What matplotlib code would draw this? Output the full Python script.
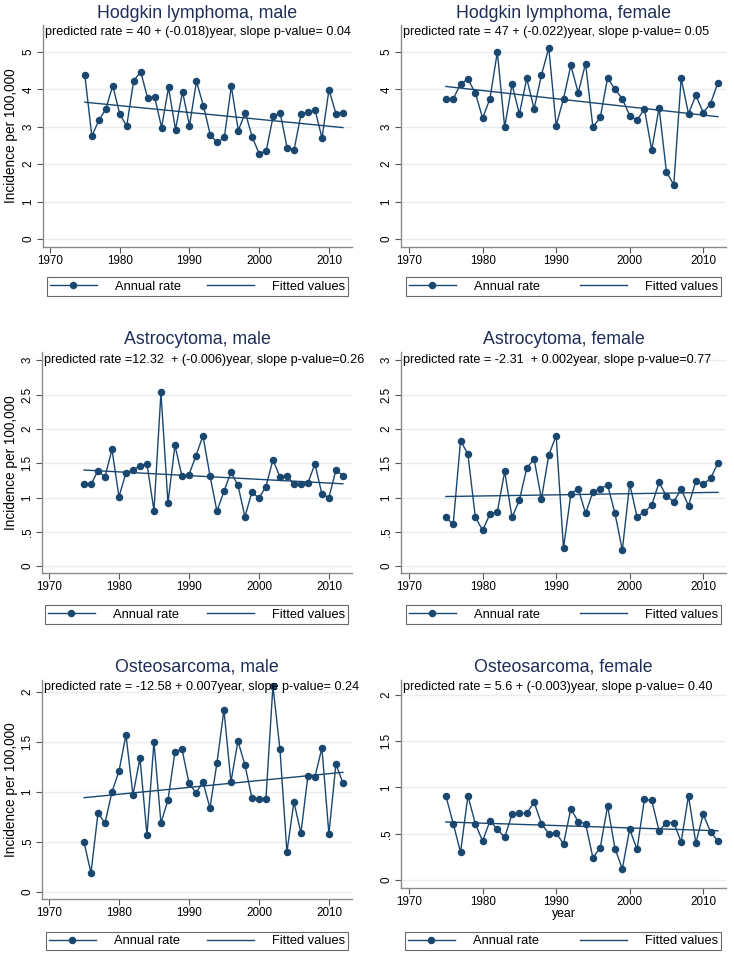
import numpy as np
import matplotlib as mpl
mpl.use("Agg")
import matplotlib.pyplot as plt
from matplotlib.lines import Line2D
from matplotlib.transforms import Bbox

plt.rcParams['font.family'] = ['Liberation Sans', 'DejaVu Sans']

years = np.arange(1975, 2013)

hodgkin_male = [4.38, 2.75, 3.17, 3.47, 4.10, 3.34, 3.02, 4.23, 4.47, 3.77,
                3.80, 2.98, 4.05, 2.92, 3.94, 3.03, 4.21, 3.56, 2.77, 2.58,
                2.72, 4.08, 2.90, 3.38, 2.72, 2.28, 2.36, 3.28, 3.37, 2.44,
                2.39, 3.34, 3.39, 3.45, 2.70, 3.99, 3.35, 3.38]
hodgkin_female = [3.75, 3.74, 4.15, 4.27, 3.91, 3.23, 3.75, 5.00, 2.99, 4.13,
                  3.34, 4.29, 3.48, 4.38, 5.11, 3.03, 3.75, 4.64, 3.91, 4.69,
                  2.99, 3.25, 4.31, 4.00, 3.75, 3.30, 3.17, 3.48, 2.38, 3.51,
                  1.79, 1.45, 4.29, 3.35, 3.84, 3.38, 3.62, 4.18]
astro_male = [1.19, 1.19, 1.39, 1.30, 1.70, 1.01, 1.36, 1.40, 1.46, 1.49,
              0.81, 2.53, 0.92, 1.76, 1.31, 1.33, 1.61, 1.90, 1.32, 0.80,
              1.09, 1.37, 1.18, 0.72, 1.08, 0.99, 1.16, 1.55, 1.30, 1.32,
              1.19, 1.20, 1.21, 1.49, 1.05, 1.00, 1.40, 1.32]
astro_female = [0.71, 0.61, 1.83, 1.63, 0.72, 0.52, 0.76, 0.79, 1.38, 0.71,
                0.96, 1.43, 1.56, 0.98, 1.62, 1.90, 0.26, 1.05, 1.13, 0.77,
                1.08, 1.13, 1.18, 0.77, 0.23, 1.20, 0.72, 0.79, 0.89, 1.22,
                1.02, 0.94, 1.12, 0.88, 1.24, 1.19, 1.28, 1.50]
osteo_male = [0.50, 0.19, 0.79, 0.69, 1.00, 1.21, 1.57, 0.97, 1.34, 0.57,
              1.50, 0.69, 0.92, 1.40, 1.43, 1.09, 0.99, 1.10, 0.84, 1.29,
              1.82, 1.10, 1.51, 1.27, 0.94, 0.93, 0.93, 2.06, 1.43, 0.40,
              0.90, 0.59, 1.16, 1.15, 1.44, 0.58, 1.28, 1.09]
osteo_female = [0.91, 0.61, 0.30, 0.91, 0.61, 0.42, 0.64, 0.55, 0.46, 0.71,
                0.72, 0.72, 0.84, 0.61, 0.50, 0.51, 0.39, 0.77, 0.63, 0.61,
                0.24, 0.35, 0.80, 0.34, 0.12, 0.55, 0.33, 0.87, 0.86, 0.53,
                0.62, 0.62, 0.41, 0.91, 0.40, 0.71, 0.52, 0.42]

titles = ["Hodgkin lymphoma, male", "Hodgkin lymphoma, female",
          "Astrocytoma, male", "Astrocytoma, female",
          "Osteosarcoma, male", "Osteosarcoma, female"]
notes = ["predicted rate = 40 + (-0.018)year, slope p-value= 0.04",
         "predicted rate = 47 + (-0.022)year, slope p-value= 0.05",
         "predicted rate =12.32  + (-0.006)year, slope p-value=0.26",
         "predicted rate = -2.31  + 0.002year, slope p-value=0.77",
         "predicted rate = -12.58 + 0.007year, slope p-value= 0.24",
         "predicted rate = 5.6 + (-0.003)year, slope p-value= 0.40"]
series = [hodgkin_male, hodgkin_female, astro_male, astro_female,
          osteo_male, osteo_female]
yticks_list = [[0, 1, 2, 3, 4, 5], [0, 1, 2, 3, 4, 5],
               [0, .5, 1, 1.5, 2, 2.5, 3], [0, .5, 1, 1.5, 2, 2.5, 3],
               [0, .5, 1, 1.5, 2], [0, .5, 1, 1.5, 2]]
xticks = [1970, 1980, 1990, 2000, 2010]

W, H = 734, 959
NAVY = "#1a476f"
TITLE_C = "#1e2d55"
SPINE_C = "#8a8a8a"
GRID_C = "#e6eef1"

# pixel layout: (left, right, top, bottom), y-limits, title y, note y, legend box
layout = [
    dict(box=(43, 352, 25, 247), ylim=(-0.214, 5.72), ty=13, ny=32, leg=(47, 348, 274, 299)),
    dict(box=(401, 726, 25, 247), ylim=(-0.214, 5.72), ty=13, ny=32, leg=(406, 721, 274, 299)),
    dict(box=(42, 352, 352, 573), ylim=(-0.10, 3.12), ty=340, ny=360, leg=(45, 348, 603, 626)),
    dict(box=(401, 726, 352, 573), ylim=(-0.10, 3.12), ty=340, ny=360, leg=(406, 721, 603, 626)),
    dict(box=(42, 352, 680, 899), ylim=(-0.07, 2.12), ty=667, ny=687, leg=(46, 348, 929, 953)),
    dict(box=(401, 726, 680, 888), ylim=(-0.086, 2.16), ty=667, ny=687, leg=(405, 721, 929, 953)),
]
xlims = [(1969.0, 2013.3), (1968.9, 2013.1)]


def fx(px):
    return px / W


def fy(py):
    return 1 - py / H


def fmt_tick(v, pos=None):
    s = f"{v:g}"
    if s.startswith("0."):
        s = s[1:]
    return s


fig = plt.figure(figsize=(W / 100, H / 100), dpi=100)

for i, vals in enumerate(series):
    lay = layout[i]
    l, r, t, b = lay["box"]
    ax = fig.add_axes([fx(l), fy(b), (r - l) / W, (b - t) / H])
    vals = np.array(vals)
    slope, icpt = np.polyfit(years, vals, 1)
    ax.plot(years, vals, color=NAVY, lw=1.0, marker="o", markersize=5.4,
            markeredgewidth=0, zorder=3)
    ax.plot(years, icpt + slope * years, color=NAVY, lw=1.0, zorder=2)

    ax.set_xlim(xlims[i % 2])
    ax.set_ylim(lay["ylim"])
    ax.set_xticks(xticks)
    ax.set_yticks(yticks_list[i])
    ax.yaxis.set_major_formatter(plt.FuncFormatter(fmt_tick))
    ax.grid(True, axis="y", color=GRID_C, lw=1.0)
    ax.set_axisbelow(True)
    for side in ["top", "right"]:
        ax.spines[side].set_visible(False)
    for side in ["left", "bottom"]:
        ax.spines[side].set_color(SPINE_C)
        ax.spines[side].set_linewidth(1.0)
    ax.tick_params(axis="both", direction="out", length=4, width=0.8,
                   color="#555555", labelsize=8.4, pad=2)
    for lab in ax.get_yticklabels():
        lab.set_rotation(90)
        lab.set_va("center")

    if i % 2 == 0:
        ax.set_ylabel("Incidence per 100,000", fontsize=9.8, labelpad=3)
    if i == 5:
        ax.set_xlabel("year", fontsize=8.8, labelpad=0)

    fig.text(fx((l + r) / 2), fy(lay["ty"]), titles[i], ha="center", va="center",
             fontsize=12.8, color=TITLE_C)
    note = fig.text(fx(l + 2), fy(lay["ny"]), notes[i], ha="left", va="center",
                    fontsize=9.1, color="black", zorder=1)
    col_right = 367 if i % 2 == 0 else W
    note.set_clip_box(Bbox([[0, 0], [col_right, H]]))
    note.set_clip_on(True)

    ll, lr, lt, lb = lay["leg"]
    handles = [Line2D([], [], color=NAVY, lw=1.0, marker="o", markersize=5.4,
                      markeredgewidth=0),
               Line2D([], [], color=NAVY, lw=1.0)]
    leg = fig.legend(handles, ["Annual rate", "Fitted values"],
                     bbox_to_anchor=(fx(ll), fy(lb), (lr - ll) / W, (lb - lt) / H),
                     loc="center", ncol=2, mode="expand", frameon=True,
                     fancybox=False, borderaxespad=0, fontsize=9.3,
                     handlelength=3.6, handletextpad=1.4, borderpad=0.25,
                     columnspacing=1.0)
    leg.get_frame().set_edgecolor("#444444")
    leg.get_frame().set_linewidth(0.8)

fig.savefig("out.png", dpi=100, facecolor="white")
